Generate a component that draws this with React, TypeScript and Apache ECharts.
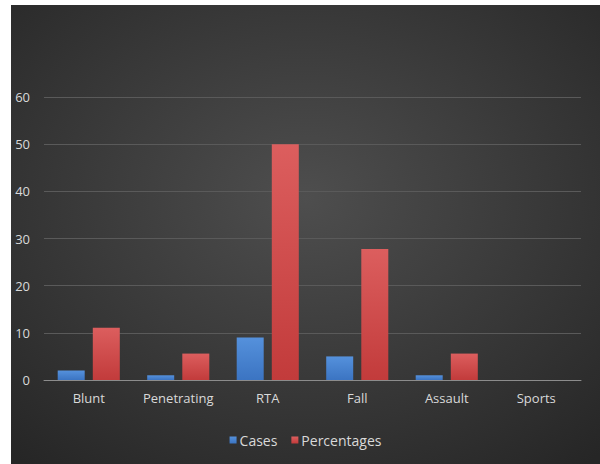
import React, { useEffect, useRef } from "react";
import * as echarts from "echarts";

const categories = ["Blunt", "Penetrating", "RTA", "Fall", "Assault", "Sports"];
const casesValues = [2, 1, 9, 5, 1, 0];
const percentageValues = [11.1, 5.6, 50, 27.8, 5.6, 0];
const yTicks = [0, 10, 20, 30, 40, 50, 60];

export default function App() {
  const ref = useRef<HTMLDivElement>(null);
  useEffect(() => {
    document.body.style.margin = "0";
    if (!ref.current) return;
    const chart = echarts.init(ref.current, null, { renderer: "svg" });
    const font = "'Open Sans', 'Noto Sans', sans-serif";
    chart.setOption({
      animation: false,
      backgroundColor: {
        type: "radial",
        x: 0.5,
        y: 0.42,
        r: 0.75,
        colorStops: [
          { offset: 0, color: "#4e4e4e" },
          { offset: 1, color: "#262626" },
        ],
      },
      textStyle: { fontFamily: font },
      legend: {
        top: 423,
        left: "center",
        itemWidth: 7,
        itemHeight: 7,
        itemGap: 14,
        icon: "rect",
        textStyle: { color: "#d9d9d9", fontSize: 14, fontFamily: font, padding: [0, 0, 0, -2] },
        data: ["Cases", "Percentages"],
      },
      grid: { left: 33, right: 19, top: 92, bottom: 84, containLabel: false },
      xAxis: {
        type: "category",
        data: categories,
        axisLine: { show: true, lineStyle: { color: "#8c8c8c", width: 1 } },
        axisTick: { show: false },
        axisLabel: { color: "#d9d9d9", fontSize: 13, margin: 11, interval: 0, fontFamily: font },
      },
      yAxis: {
        type: "value",
        min: yTicks[0],
        max: yTicks[yTicks.length - 1],
        interval: 10,
        axisLine: { show: false },
        axisTick: { show: false },
        axisLabel: { color: "#d9d9d9", fontSize: 13, margin: 14, fontFamily: font },
        splitLine: { lineStyle: { color: "#5a5a5a", width: 1 } },
      },
      series: [
        {
          name: "Cases",
          type: "bar",
          data: casesValues,
          barWidth: 27,
          barGap: "30%",
          itemStyle: {
            color: {
              type: "linear", x: 0, y: 0, x2: 0, y2: 1,
              colorStops: [
                { offset: 0, color: "#5591dc" },
                { offset: 1, color: "#3b74c2" },
              ],
            },
          },
        },
        {
          name: "Percentages",
          type: "bar",
          data: percentageValues,
          barWidth: 27,
          itemStyle: {
            color: {
              type: "linear", x: 0, y: 0, x2: 0, y2: 1,
              colorStops: [
                { offset: 0, color: "#dc5e5e" },
                { offset: 1, color: "#c23b3b" },
              ],
            },
          },
        },
      ],
    });
    return () => chart.dispose();
  }, []);
  return (
    <div style={{ position: "relative", width: 600, height: 464, background: "#ffffff", overflow: "hidden" }}>
      <div ref={ref} style={{ position: "absolute", left: 11, top: 5, width: 589, height: 459 }} />
    </div>
  );
}
